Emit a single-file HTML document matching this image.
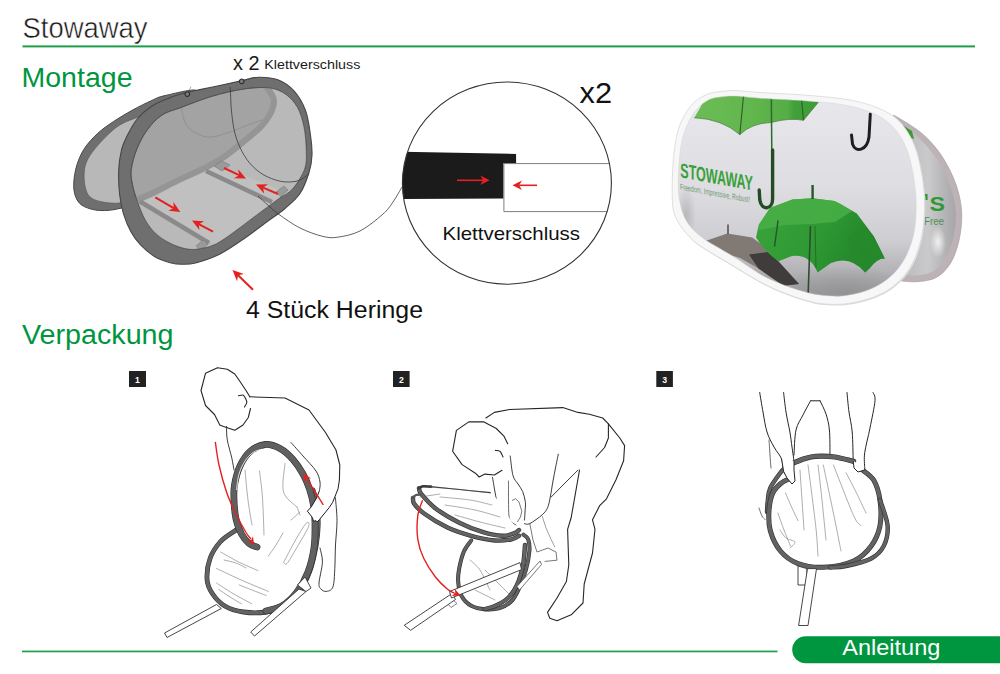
<!DOCTYPE html>
<html><head><meta charset="utf-8">
<style>
html,body{margin:0;padding:0;background:#fff;width:1000px;height:674px;overflow:hidden}
svg{display:block}
text{font-family:"Liberation Sans",sans-serif}
</style></head>
<body>
<svg width="1000" height="674" viewBox="0 0 1000 674">
<rect width="1000" height="674" fill="#fff"/>
<path d="M196,90.5 C195.2,88.1 172.3,93.9 165,95.6 C157.7,97.2 157.3,98 151.9,100.4 C146.5,102.8 139,106.5 132.6,110.1 C126.2,113.6 119.1,117.8 113.3,121.7 C107.5,125.6 102.6,128.8 97.8,133.3 C93,137.8 87.8,143.2 84.3,148.7 C80.8,154.1 78.4,159.9 76.6,166 C74.8,172.1 73.7,179.9 73.7,185.4 C73.7,190.9 74.8,195.4 76.6,198.9 C78.4,202.4 80.4,204.7 84.3,206.6 C88.2,208.5 93.9,210.2 99.7,210.5 C105.5,210.8 112.3,210.3 119,208.6 C125.7,206.8 134.8,209.8 140,200 C145.2,190.2 145,165 150,150 C155,135 162.3,119.9 170,110 C177.7,100.1 196.8,92.9 196,90.5Z" fill="#6f6f6f" stroke="#474747" stroke-width="1"/>
<path d="M145,114 C144.7,110.2 142.7,115 138.4,116.9 C134.1,118.8 125.1,121.5 119,125.5 C112.9,129.5 106.8,135.5 101.7,141 C96.6,146.5 91.1,153.2 88.2,158.4 C85.3,163.6 84.8,167.1 84.3,171.9 C83.8,176.7 84.3,183.1 85.3,187.3 C86.3,191.5 87.4,194.6 90.1,197 C92.8,199.4 96.5,200.8 101.7,201.8 C106.9,202.8 115.5,203.9 121,202.8 C126.5,201.7 131.8,205.5 135,195 C138.2,184.5 138.3,153.5 140,140 C141.7,126.5 145.3,117.8 145,114Z" fill="#b8b8b8" stroke="#555" stroke-width="0.6"/>
<path d="M118.7,170 C119,162.8 120.2,155.4 121.5,150 C122.8,144.6 123.9,142.4 126.4,137.3 C129,132.2 132.6,124.7 136.8,119.5 C141,114.3 145.9,109.9 151.6,106.2 C157.3,102.5 164.8,99.7 171,97.3 C177.2,94.9 181.8,93.8 188.7,92.1 C195.6,90.4 203.7,88.9 212.6,87 C221.5,85.1 234.4,82.2 242,80.6 C249.6,79 252.3,77.3 258.3,77.2 C264.3,77.1 271.9,77.5 277.9,79.8 C283.9,82.1 289.6,86 294.2,91.2 C298.8,96.4 302.9,103.4 305.6,110.8 C308.3,118.2 309.4,127.9 310.5,135.3 C311.6,142.7 312.2,148.8 312,155 C311.8,161.2 311,166.1 309,172.5 C307,178.9 304,187.5 300,193.5 C296,199.5 290.3,203.9 285,208.5 C279.7,213.1 274.7,216.1 268,221 C261.3,225.9 253,232.5 245,238 C237,243.5 228.1,249.9 220,254 C211.9,258.1 202.8,261 196.6,262.7 C190.4,264.4 187,264.3 182.6,264.3 C178.2,264.3 174.8,264 170.1,262.7 C165.4,261.4 159.4,259.5 154.5,256.5 C149.6,253.5 144.4,248.8 140.5,244.8 C136.6,240.8 134,237.5 131.2,232.3 C128.3,227.1 125.4,220.1 123.4,213.6 C121.5,207.1 120.3,200.7 119.5,193.4 C118.7,186.1 118.4,177.2 118.7,170Z" fill="#6f6f6f" stroke="#474747" stroke-width="1.1"/>
<clipPath id="fi"><path d="M131.2,170 C131.9,163.9 134.1,155.9 136.8,149.2 C139.5,142.5 143,135.7 147.2,130 C151.4,124.3 156.3,118.8 162,115 C167.7,111.2 172.9,110.6 181.3,107.4 C189.7,104.2 202,99.2 212.6,96.1 C223.2,93 235.5,90.1 245,88.8 C254.5,87.5 262.9,87 269.7,88 C276.5,89 281.4,91.2 286,94.5 C290.6,97.8 294.5,102.1 297.5,107.5 C300.5,112.9 302.5,119.7 304,127 C305.5,134.3 306.2,144.5 306.3,151.6 C306.4,158.7 306.8,163.3 304.5,169.5 C302.2,175.7 297,184 292.5,189 C288,194 283.2,195.3 277.5,199.5 C271.8,203.7 267.6,207 258,214 C248.4,221 229.7,235.9 220,241.7 C210.3,247.5 205.4,247.5 199.7,248.7 C194,249.9 190.6,249.6 185.7,248.7 C180.8,247.8 175,245.7 170.1,243.2 C165.2,240.7 160.2,237.8 156.1,233.9 C151.9,230 148.3,225.4 145.2,219.9 C142.1,214.4 139.5,206.9 137.4,201.2 C135.3,195.5 133.7,190.8 132.7,185.6 C131.7,180.4 130.5,176.1 131.2,170Z"/></clipPath>
<path d="M131.2,170 C131.9,163.9 134.1,155.9 136.8,149.2 C139.5,142.5 143,135.7 147.2,130 C151.4,124.3 156.3,118.8 162,115 C167.7,111.2 172.9,110.6 181.3,107.4 C189.7,104.2 202,99.2 212.6,96.1 C223.2,93 235.5,90.1 245,88.8 C254.5,87.5 262.9,87 269.7,88 C276.5,89 281.4,91.2 286,94.5 C290.6,97.8 294.5,102.1 297.5,107.5 C300.5,112.9 302.5,119.7 304,127 C305.5,134.3 306.2,144.5 306.3,151.6 C306.4,158.7 306.8,163.3 304.5,169.5 C302.2,175.7 297,184 292.5,189 C288,194 283.2,195.3 277.5,199.5 C271.8,203.7 267.6,207 258,214 C248.4,221 229.7,235.9 220,241.7 C210.3,247.5 205.4,247.5 199.7,248.7 C194,249.9 190.6,249.6 185.7,248.7 C180.8,247.8 175,245.7 170.1,243.2 C165.2,240.7 160.2,237.8 156.1,233.9 C151.9,230 148.3,225.4 145.2,219.9 C142.1,214.4 139.5,206.9 137.4,201.2 C135.3,195.5 133.7,190.8 132.7,185.6 C131.7,180.4 130.5,176.1 131.2,170Z" fill="#a3a3a3" stroke="#4d4d4d" stroke-width="0.7"/>
<g clip-path="url(#fi)">
<path d="M266,86 C267.3,88.2 272.9,94.8 273.7,99.3 C274.5,103.8 272.9,108.3 270.8,112.8 C268.7,117.3 265.4,121.8 261.2,126.3 C257,130.8 251.6,135 245.8,139.8 C240,144.6 232.9,150.7 226.5,155.2 C220.1,159.7 215.2,162.6 207.2,166.8 C199.1,171 186.9,176.1 178.2,180.3 C169.5,184.5 162.5,188.4 155.1,191.9 C147.7,195.4 137.5,199.9 134,201.5 L120,260 L320,260 L320,80Z" fill="#b9b9b9"/>
<path d="M140,199 L214,163 L290,194 L215,245Z" fill="#c0c0c0"/>
<path d="M266,86 C267.3,88.2 272.9,94.8 273.7,99.3 C274.5,103.8 272.9,108.3 270.8,112.8 C268.7,117.3 265.4,121.8 261.2,126.3 C257,130.8 251.6,135 245.8,139.8 C240,144.6 232.9,150.7 226.5,155.2 C220.1,159.7 215.2,162.6 207.2,166.8 C199.1,171 186.9,176.1 178.2,180.3 C169.5,184.5 162.5,188.4 155.1,191.9 C147.7,195.4 137.5,199.9 134,201.5" fill="none" stroke="#959595" stroke-width="6.2"/>
<path d="M181,106 C181.8,109.1 183.2,119.7 186,124.4 C188.8,129.1 193.3,131.9 197.5,134 C201.7,136.1 205.6,137.3 211,137 C216.4,136.7 223.6,134.1 230,132 C236.4,129.9 244.3,126.4 249.6,124.4 C254.9,122.4 259.9,120.7 262,120" fill="none" stroke="#8d8d8d" stroke-width="0.8"/>
<path d="M140,201.5 L209,243" stroke="#8a8a8a" stroke-width="4.6" fill="none"/>
<path d="M206,171 L272,202" stroke="#8a8a8a" stroke-width="4.6" fill="none"/>
<path d="M214,166 L222,161 L230,165 L222,171Z" fill="#9a9a9a" stroke="#7a7a7a" stroke-width="0.6"/>
<path d="M276,192 L284,186 L288,190 L281,197Z" fill="#9a9a9a" stroke="#7a7a7a" stroke-width="0.6"/>
<path d="M196,246 L203,240 L208,244 L201,250Z" fill="#9a9a9a" stroke="#7a7a7a" stroke-width="0.6"/>
</g>
<path d="M131.2,170 C131.9,163.9 134.1,155.9 136.8,149.2 C139.5,142.5 143,135.7 147.2,130 C151.4,124.3 156.3,118.8 162,115 C167.7,111.2 172.9,110.6 181.3,107.4 C189.7,104.2 202,99.2 212.6,96.1 C223.2,93 235.5,90.1 245,88.8 C254.5,87.5 262.9,87 269.7,88 C276.5,89 281.4,91.2 286,94.5 C290.6,97.8 294.5,102.1 297.5,107.5 C300.5,112.9 302.5,119.7 304,127 C305.5,134.3 306.2,144.5 306.3,151.6 C306.4,158.7 306.8,163.3 304.5,169.5 C302.2,175.7 297,184 292.5,189 C288,194 283.2,195.3 277.5,199.5 C271.8,203.7 267.6,207 258,214 C248.4,221 229.7,235.9 220,241.7 C210.3,247.5 205.4,247.5 199.7,248.7 C194,249.9 190.6,249.6 185.7,248.7 C180.8,247.8 175,245.7 170.1,243.2 C165.2,240.7 160.2,237.8 156.1,233.9 C151.9,230 148.3,225.4 145.2,219.9 C142.1,214.4 139.5,206.9 137.4,201.2 C135.3,195.5 133.7,190.8 132.7,185.6 C131.7,180.4 130.5,176.1 131.2,170Z" fill="none" stroke="#4d4d4d" stroke-width="0.7"/>
<path d="M230.3,87 C230.5,90.7 230.7,101.8 231.3,109 C232,116.2 232.8,123.8 234.2,130.2 C235.6,136.6 237.4,142 240,147.5 C242.6,153 245.8,158.5 249.6,163 C253.4,167.5 257.9,171.4 263,174.5 C268.1,177.6 275,180.2 280.5,181.3 C286,182.4 291.8,182.1 296,181.3 C300.2,180.5 303.4,177.9 305.6,176.5 C307.8,175.1 308.4,173.6 309,173" fill="none" stroke="#3a3a3a" stroke-width="0.8"/>
<path d="M258,196 C260,197.8 266.5,203.9 270,207 C273.5,210.1 274,211 279,214.5 C284,218 292.8,224.4 300,228 C307.2,231.6 316.2,234.8 322.5,236.3 C328.8,237.8 331.2,238.1 337.5,237.2 C343.8,236.3 352.5,234.8 360,231 C367.5,227.2 377,219.3 382.5,214.5 C388,209.7 389.8,206.6 393,202 C396.2,197.4 400.5,189.5 402,187" fill="none" stroke="#3a3a3a" stroke-width="0.8"/>
<circle cx="187.3" cy="94.1" r="2.4" fill="#777" stroke="#222" stroke-width="1"/>
<circle cx="241.7" cy="81.4" r="2.4" fill="#777" stroke="#222" stroke-width="1"/>
<path d="M189,90.5 L191,86.5" stroke="#777" stroke-width="0.6"/>
<path d="M155.3,197.3 L173.7,208.1" stroke="#e3211f" stroke-width="2.0" fill="none"/><path d="M180.3,212.0 L168.3,210.7 L173.7,208.1 L173.4,202.1 Z" fill="#e3211f"/>
<path d="M213.0,231.6 L198.8,224.2" stroke="#e3211f" stroke-width="2.0" fill="none"/><path d="M192.0,220.6 L204.1,221.3 L198.8,224.2 L199.4,230.1 Z" fill="#e3211f"/>
<path d="M224.0,168.0 L239.1,175.2" stroke="#e3211f" stroke-width="2.0" fill="none"/><path d="M246.0,178.5 L233.9,178.3 L239.1,175.2 L238.2,169.2 Z" fill="#e3211f"/>
<path d="M278.0,194.0 L263.1,187.6" stroke="#e3211f" stroke-width="2.0" fill="none"/><path d="M256.0,184.5 L268.1,184.3 L263.1,187.6 L264.1,193.5 Z" fill="#e3211f"/>
<path d="M253.0,289.7 L238.1,275.3" stroke="#e3211f" stroke-width="2.0" fill="none"/><path d="M232.5,270.0 L243.9,274.0 L238.1,275.3 L237.0,281.2 Z" fill="#e3211f"/>
<clipPath id="cc"><ellipse cx="506.9" cy="183.1" rx="104.5" ry="101.1"/></clipPath>
<g clip-path="url(#cc)">
<path d="M395,151.5 L516.1,154 L516.1,163.2 L503.4,163.2 L503.4,198.5 L395,199Z" fill="#1b1b1b"/>
<path d="M503.9,163.6 H620 M503.9,163.6 V211.6 H620" fill="none" stroke="#7d7d7d" stroke-width="1"/>
</g>
<ellipse cx="506.9" cy="183.1" rx="104.5" ry="101.1" fill="none" stroke="#333" stroke-width="1.1"/>
<path d="M457.0,180.3 L483.1,180.3" stroke="#e3211f" stroke-width="1.6" fill="none"/><path d="M489.7,180.3 L480.2,185.1 L483.1,180.3 L480.2,175.5 Z" fill="#e3211f"/>
<path d="M537.0,185.3 L519.1,185.3" stroke="#e3211f" stroke-width="1.6" fill="none"/><path d="M512.5,185.3 L522.0,180.5 L519.1,185.3 L522.0,190.1 Z" fill="#e3211f"/>
<defs><linearGradient id="bpg" x1="0" y1="0" x2="1" y2="0"><stop offset="0" stop-color="#b9b9bb"/><stop offset="0.5" stop-color="#cacacc"/><stop offset="1" stop-color="#a6a5a7"/></linearGradient><linearGradient id="fpg" x1="0" y1="0" x2="0" y2="1"><stop offset="0" stop-color="#e9e8ed"/><stop offset="0.45" stop-color="#dedde2"/><stop offset="0.7" stop-color="#cecdd1"/><stop offset="0.85" stop-color="#b2b1b5"/><stop offset="1" stop-color="#959497"/></linearGradient><radialGradient id="cloud" cx="0.5" cy="0.5" r="0.5"><stop offset="0" stop-color="#f2f2f2" stop-opacity="0.95"/><stop offset="1" stop-color="#f2f2f2" stop-opacity="0"/></radialGradient><radialGradient id="dcloud" cx="0.5" cy="0.5" r="0.5"><stop offset="0" stop-color="#8e8d8f" stop-opacity="0.9"/><stop offset="1" stop-color="#8e8d8f" stop-opacity="0"/></radialGradient><linearGradient id="gum" x1="0" y1="0" x2="1" y2="0.3"><stop offset="0" stop-color="#3aa33c"/><stop offset="0.55" stop-color="#2f9a33"/><stop offset="1" stop-color="#23852a"/></linearGradient><linearGradient id="gtop" x1="0" y1="0" x2="1" y2="0"><stop offset="0" stop-color="#6cbc55"/><stop offset="0.45" stop-color="#62b64e"/><stop offset="0.75" stop-color="#55ad45"/><stop offset="0.8" stop-color="#42a03a"/><stop offset="1" stop-color="#3e9c37"/></linearGradient></defs>
<path d="M893,116 C893.7,116.2 892.1,114 897,117 C901.9,120 914.8,127.3 922.3,133.8 C929.8,140.4 936.4,147.9 942,156.3 C947.6,164.8 952.7,175.1 956,184.5 C959.3,193.9 961.2,203.3 961.7,212.7 C962.2,222.1 960.8,232.4 958.9,240.8 C957,249.2 954.2,257.3 950.4,263.4 C946.6,269.5 941.9,274.4 936.3,277.5 C930.7,280.6 923.1,281.2 916.6,281.7 C910.1,282.2 900.9,280.8 897,280.3 C893.1,279.9 893.7,279.2 893,279Z" fill="#bdb3b6" stroke="#a89fa2" stroke-width="0.7"/>
<path d="M905,126 C907.5,128.2 914.6,133.3 920,139 C925.4,144.7 932.4,152 937.5,160 C942.6,168 947.5,178.2 950.5,187 C953.5,195.8 955.4,204.3 955.8,213 C956.2,221.7 954.8,231.3 953,239 C951.2,246.7 948.4,253.6 945,259 C941.6,264.4 937.3,268.8 932.5,271.5 C927.7,274.2 921.4,275.1 916,275.5 C910.6,275.9 902.7,274.2 900,274Z" fill="url(#bpg)"/>
<ellipse cx="938" cy="242" rx="8" ry="16" fill="url(#cloud)"/>
<path d="M902.5,125 L912,131 L914,139 L906,136Z" fill="#3f9a35"/>
<text x="929.5" y="210.5" font-size="21" font-weight="bold" fill="#2f9a35" textLength="15.5" lengthAdjust="spacingAndGlyphs">S</text>
<path d="M923.5,195 L926.5,195 L926.5,200" stroke="#2f9a35" stroke-width="2.2" fill="none"/>
<text x="924" y="224.5" font-size="10" fill="#4f8f4f" textLength="20" lengthAdjust="spacingAndGlyphs">Free</text>
<path d="M735,90.6 C742.2,90.7 747.5,91.7 760,92.5 C772.5,93.3 795,94.2 810,95.5 C825,96.8 838.7,97.9 850,100 C861.3,102.1 870,104.7 878,108 C886,111.3 892.3,114.7 898,120 C903.7,125.3 908.3,132.5 912,140 C915.7,147.5 917.9,155.2 920,165 C922.1,174.8 924.1,187.8 924.5,199 C924.9,210.2 924.1,222.2 922.5,232 C920.9,241.8 918.1,250.7 915,258 C911.9,265.3 908.5,270.7 904,276 C899.5,281.3 894,286.2 888,290 C882,293.8 875.3,296.7 868,299 C860.7,301.3 852,303.2 844,304 C836,304.8 826.5,304.2 820,303.5 C813.5,302.8 810.1,301.4 805,300 C799.9,298.6 794.8,296.9 789.6,295 C784.4,293.1 779.2,291.1 774,288.8 C768.8,286.5 763.7,283.9 758.5,281 C753.3,278.1 748.1,274.8 742.9,271.7 C737.7,268.6 732.5,265.4 727.3,262.3 C722.1,259.2 716.9,256.2 711.7,253 C706.5,249.8 700.6,246.5 696.2,243 C691.8,239.5 688.4,235.8 685.2,232 C682,228.2 679,223.9 677,220 C675,216.1 673.8,213.7 673,208.5 C672.2,203.3 672.2,196.3 672.2,189 C672.2,181.7 672.5,172.3 673,164.5 C673.5,156.7 674.4,148.4 675.5,142 C676.6,135.6 678,130.4 679.5,126 C681,121.6 682.8,118.7 684.5,115.5 C686.2,112.3 688,109.5 690,107 C692,104.5 693.5,102.9 696.2,100.8 C699,98.7 703,96 706.5,94.5 C710,93 712.2,92.7 717,92 C721.8,91.3 727.8,90.5 735,90.6Z" fill="#dcdcdc" stroke="none" transform="translate(0.8,1.2)"/>
<path d="M735,90.6 C742.2,90.7 747.5,91.7 760,92.5 C772.5,93.3 795,94.2 810,95.5 C825,96.8 838.7,97.9 850,100 C861.3,102.1 870,104.7 878,108 C886,111.3 892.3,114.7 898,120 C903.7,125.3 908.3,132.5 912,140 C915.7,147.5 917.9,155.2 920,165 C922.1,174.8 924.1,187.8 924.5,199 C924.9,210.2 924.1,222.2 922.5,232 C920.9,241.8 918.1,250.7 915,258 C911.9,265.3 908.5,270.7 904,276 C899.5,281.3 894,286.2 888,290 C882,293.8 875.3,296.7 868,299 C860.7,301.3 852,303.2 844,304 C836,304.8 826.5,304.2 820,303.5 C813.5,302.8 810.1,301.4 805,300 C799.9,298.6 794.8,296.9 789.6,295 C784.4,293.1 779.2,291.1 774,288.8 C768.8,286.5 763.7,283.9 758.5,281 C753.3,278.1 748.1,274.8 742.9,271.7 C737.7,268.6 732.5,265.4 727.3,262.3 C722.1,259.2 716.9,256.2 711.7,253 C706.5,249.8 700.6,246.5 696.2,243 C691.8,239.5 688.4,235.8 685.2,232 C682,228.2 679,223.9 677,220 C675,216.1 673.8,213.7 673,208.5 C672.2,203.3 672.2,196.3 672.2,189 C672.2,181.7 672.5,172.3 673,164.5 C673.5,156.7 674.4,148.4 675.5,142 C676.6,135.6 678,130.4 679.5,126 C681,121.6 682.8,118.7 684.5,115.5 C686.2,112.3 688,109.5 690,107 C692,104.5 693.5,102.9 696.2,100.8 C699,98.7 703,96 706.5,94.5 C710,93 712.2,92.7 717,92 C721.8,91.3 727.8,90.5 735,90.6Z" fill="#f7f7f7" stroke="#d8d8d8" stroke-width="0.8"/>
<clipPath id="fpc"><path d="M735,96 C741.3,96.2 747.5,97.3 760,98.2 C772.5,99.1 795.5,100 810,101.2 C824.5,102.4 836.7,103.5 847,105.5 C857.3,107.5 864.8,109.9 872,113 C879.2,116.1 884.8,119.2 890,124 C895.2,128.8 899.9,135 903.5,142 C907.1,149 909.4,156.5 911.5,166 C913.6,175.5 915.5,188.3 916,199 C916.5,209.7 915.9,221 914.5,230 C913.1,239 910.4,246.3 907.5,253 C904.6,259.7 901.2,265 897,270 C892.8,275 887.5,279.4 882,283 C876.5,286.6 870.7,289.3 864,291.5 C857.3,293.7 849.3,295.4 842,296 C834.7,296.6 826.2,295.7 820,295 C813.8,294.3 810.1,293.2 805,291.9 C799.9,290.6 794.8,289 789.6,287.2 C784.4,285.4 779.2,283.3 774,281 C768.8,278.7 765,277.1 758.5,273.2 C752,269.3 741.5,261.8 735,257.6 C728.5,253.5 724.7,251.4 719.5,248.3 C714.3,245.2 708.4,242.1 704,239 C699.6,235.9 696.1,233 693,229.6 C689.9,226.2 687.3,222.8 685.2,218.7 C683.1,214.6 681.6,209.9 680.5,205 C679.4,200.1 678.5,195.7 678.3,189 C678,182.3 678.5,172.7 679,165 C679.5,157.3 680.3,149.2 681.5,143 C682.7,136.8 684.4,132.2 686,128 C687.6,123.8 689.2,120.7 691,117.5 C692.8,114.3 694.9,111.4 697,109 C699.1,106.6 701,104.8 703.5,103 C706,101.2 708.9,99.5 712,98.5 C715.1,97.5 718.2,97.2 722,96.8 C725.8,96.4 728.7,95.8 735,96Z"/></clipPath>
<g clip-path="url(#fpc)">
<rect x="660" y="90" width="270" height="215" fill="url(#fpg)"/>
<ellipse cx="686" cy="215" rx="10" ry="30" fill="url(#dcloud)" opacity="0.45"/>
<ellipse cx="845" cy="292" rx="70" ry="26" fill="url(#dcloud)" opacity="0.8"/>
<ellipse cx="745" cy="285" rx="45" ry="20" fill="url(#dcloud)" opacity="0.6"/>
<path d="M694.3,117.7 L700,108 L708,92 L819,92 L819,101.5 L803.5,120.3 Q790,117.5 771,122.5 Q752,123 739.8,134.6 Q722,119 694.3,117.7Z" fill="url(#gtop)"/>
<path d="M694.3,117.7 Q722,119 739.8,134.6 Q752,123 771,122.5 Q790,117.5 803.5,120.3 L819,101.5" fill="none" stroke="#3d7a35" stroke-width="0.7"/>
<path d="M743.7,94 L739.8,134.6 M801,94 L803.5,120.3" stroke="#2a5f28" stroke-width="1.1" fill="none"/>
<path d="M771.3,94 L771.8,150" stroke="#2f6a2d" stroke-width="1.5" fill="none"/>
<path d="M772.6,150 L772.6,199 C772.6,210 761.5,211 759.8,200 L759.2,190" stroke="#244b24" stroke-width="3.4" fill="none" stroke-linecap="round"/>
<path d="M870.3,114 L869,137 C867,151 855.5,153 852.5,144 L851.5,135" stroke="#1e1e1e" stroke-width="3" fill="none" stroke-linecap="round"/>
<path d="M700,241 L702.4,242 L727.3,233.5 L752.2,237.4 L764.7,246.7 L779,262 L799,284 L783.4,285.7 L758.5,268.5 L740,258 L719.5,251.4 L702,243Z" fill="#817a74"/>
<path d="M749,254.5 L768,252 L779,262 L799,284 L783.4,285.7 L758.5,268.5Z" fill="#3f3c3b"/>
<path d="M728,224.5 L728,234" stroke="#4f4b48" stroke-width="1.5"/>
<path d="M770,208 L792.4,199.6 L812,198.2 L834.4,201 L840,203.8 L856.8,213.6 L873.6,236 L884.8,258.4 Q877,258 870,268 L865.2,272.4 Q850,255 831,263 L817.6,272.4 Q810,254 792,256 L778.4,261.2 Q765,252 756,237.4 L758.8,224.8Z" fill="url(#gum)"/>
<path d="M770,208 L792.4,199.6 L812,198.2 L834.4,201 L840,203.8 L852,211 L835,222 L812,224 L785,225 L759,230 L758.8,224.8Z" fill="#49ae47" opacity="0.85"/>
<path d="M848,236 L862,225 L873.6,236 L884.8,258.4 Q877,258 870,268 L865.2,272.4 Q858,262 850,258Z" fill="#268a2d" opacity="0.7"/>
<path d="M812.6,185 L812.6,199" stroke="#255a26" stroke-width="2.4"/>
<path d="M810.5,226 L808,299" stroke="#2d4d2d" stroke-width="1.6" fill="none"/>
<path d="M815,226 L816,268" stroke="#2a6a2a" stroke-width="1" fill="none"/>
<path d="M778,221 L774.6,246" stroke="#22572a" stroke-width="1.4" fill="none" stroke-linecap="round"/>
<g transform="translate(680.3,177.2) skewY(10.5)"><text x="0" y="0" font-size="20.5" font-weight="bold" fill="#3aa03a" textLength="72.5" lengthAdjust="spacingAndGlyphs">STOWAWAY</text></g>
<g transform="translate(680,189.5) skewY(10.6)"><text x="0" y="0" font-size="8.6" fill="#6f9a6f" textLength="70" lengthAdjust="spacingAndGlyphs">Freedom, Impressive, Robust!</text></g>
</g>
<path d="M735,96 C741.3,96.2 747.5,97.3 760,98.2 C772.5,99.1 795.5,100 810,101.2 C824.5,102.4 836.7,103.5 847,105.5 C857.3,107.5 864.8,109.9 872,113 C879.2,116.1 884.8,119.2 890,124 C895.2,128.8 899.9,135 903.5,142 C907.1,149 909.4,156.5 911.5,166 C913.6,175.5 915.5,188.3 916,199 C916.5,209.7 915.9,221 914.5,230 C913.1,239 910.4,246.3 907.5,253 C904.6,259.7 901.2,265 897,270 C892.8,275 887.5,279.4 882,283 C876.5,286.6 870.7,289.3 864,291.5 C857.3,293.7 849.3,295.4 842,296 C834.7,296.6 826.2,295.7 820,295 C813.8,294.3 810.1,293.2 805,291.9 C799.9,290.6 794.8,289 789.6,287.2 C784.4,285.4 779.2,283.3 774,281 C768.8,278.7 765,277.1 758.5,273.2 C752,269.3 741.5,261.8 735,257.6 C728.5,253.5 724.7,251.4 719.5,248.3 C714.3,245.2 708.4,242.1 704,239 C699.6,235.9 696.1,233 693,229.6 C689.9,226.2 687.3,222.8 685.2,218.7 C683.1,214.6 681.6,209.9 680.5,205 C679.4,200.1 678.5,195.7 678.3,189 C678,182.3 678.5,172.7 679,165 C679.5,157.3 680.3,149.2 681.5,143 C682.7,136.8 684.4,132.2 686,128 C687.6,123.8 689.2,120.7 691,117.5 C692.8,114.3 694.9,111.4 697,109 C699.1,106.6 701,104.8 703.5,103 C706,101.2 708.9,99.5 712,98.5 C715.1,97.5 718.2,97.2 722,96.8 C725.8,96.4 728.7,95.8 735,96Z" fill="none" stroke="#d0d0d0" stroke-width="0.5"/>
<path d="M249.8,396.8 L246,390.5 L240,381.5 L234.8,374 L227.3,369.2 L217.5,367.7 L205.5,373.3 L201,390.5 L205.5,405.5 L214.5,414.5 L219.8,425 L223.5,426.5 L228,428 L234.8,430.3 L243,425 L248.3,417.5 L250.5,408.5" fill="none" stroke="#262626" stroke-width="1.10" stroke-linejoin="round" stroke-linecap="round"/>
<path d="M238.5,395.8 C239.2,395.7 241.9,394.6 243,395 C244.1,395.4 244.7,396.8 245.3,398 C245.9,399.2 246.9,401 246.8,402.5 C246.7,404 244.9,406.2 244.5,407" fill="none" stroke="#262626" stroke-width="1.10" stroke-linejoin="round" stroke-linecap="round"/>
<path d="M249.8,396.8 L285,398 L309,410 L325.5,432.5 L336,450 L339.8,465 L339.4,480" fill="none" stroke="#262626" stroke-width="1.10" stroke-linejoin="round" stroke-linecap="round"/>
<path d="M226.5,426.5 C226.6,428.8 226.4,434.8 227.3,440 C228.2,445.2 230.7,453 231.8,458 C232.9,463 233.6,468 234,470" fill="none" stroke="#262626" stroke-width="0.90" stroke-linejoin="round" stroke-linecap="round"/>
<path d="M291,442.5 C293,444.8 298.8,451.2 303,456 C307.2,460.8 313.2,466.7 316,471 C318.8,475.3 319.4,478.7 320,482 C320.6,485.3 319.5,489.2 319.4,490.7" fill="none" stroke="#262626" stroke-width="0.90" stroke-linejoin="round" stroke-linecap="round"/>
<path d="M335.4,497.8 C335.7,501.6 337,512.9 337,520.8 C337,528.7 335.9,537 335.5,545 C335.1,553 335.2,561.5 334.8,568.5 C334.4,575.5 334.3,583.4 332.8,587.2 C331.3,591 328,591.1 326,591.4 C324,591.7 322.2,590.4 321,589 C319.8,587.6 318.8,587.5 319,583 C319.2,578.5 322.2,568.1 322.4,562.3 C322.6,556.5 320.4,550.4 320,548" fill="none" stroke="#262626" stroke-width="0.90" stroke-linejoin="round" stroke-linecap="round"/>
<path d="M259.5,471 C260,475.5 261.8,487.3 262.5,498 C263.2,508.7 263.8,528.8 264,535" fill="none" stroke="#8a8a8a" stroke-width="0.70" stroke-linejoin="round" stroke-linecap="round"/>
<path d="M285,463.5 C284.8,468.2 281.5,484.8 283.5,492 C285.5,499.2 294.8,504.5 297,507" fill="none" stroke="#8a8a8a" stroke-width="0.70" stroke-linejoin="round" stroke-linecap="round"/>
<path d="M220.6,552 C223.7,553.7 233.1,559.2 239.3,562.3 C245.5,565.4 254.9,569.2 258,570.6" fill="none" stroke="#8a8a8a" stroke-width="0.70" stroke-linejoin="round" stroke-linecap="round"/>
<path d="M224,560 C226,560.5 232.3,561.7 236,563 C239.7,564.3 244.3,567.2 246,568" fill="none" stroke="#8a8a8a" stroke-width="0.70" stroke-linejoin="round" stroke-linecap="round"/>
<path d="M216.5,568.5 C221,570.6 234.8,577.2 243.5,581 C252.2,584.8 264.2,589.7 268.4,591.4" fill="none" stroke="#8a8a8a" stroke-width="0.70" stroke-linejoin="round" stroke-linecap="round"/>
<path d="M216.5,583 C219.2,584.8 227.1,590 233,593.5 C238.9,597 248.7,602.1 251.8,603.8" fill="none" stroke="#8a8a8a" stroke-width="0.70" stroke-linejoin="round" stroke-linecap="round"/>
<path d="M218.5,589.3 C220.4,590.6 226.2,594.6 230,597 C233.8,599.4 239.5,602.7 241.4,603.8" fill="none" stroke="#8a8a8a" stroke-width="0.70" stroke-linejoin="round" stroke-linecap="round"/>
<path d="M239.3,585 C241.4,585.8 247.5,588.2 252,590 C256.5,591.8 263.9,594.6 266.3,595.5" fill="none" stroke="#8a8a8a" stroke-width="0.70" stroke-linejoin="round" stroke-linecap="round"/>
<path d="M268.4,556 C269.7,554.2 273.6,548.8 276,545 C278.4,541.2 281.8,535 283,533" fill="none" stroke="#8a8a8a" stroke-width="0.70" stroke-linejoin="round" stroke-linecap="round"/>
<path d="M291,520 C292.5,518.7 298.5,513.3 300,512" fill="none" stroke="#8a8a8a" stroke-width="0.70" stroke-linejoin="round" stroke-linecap="round"/>
<path d="M245,470 C245.5,475 246.8,490.8 248,500 C249.2,509.2 251.3,520.8 252,525" fill="none" stroke="#8a8a8a" stroke-width="0.70" stroke-linejoin="round" stroke-linecap="round"/>
<path d="M297,507 C297.5,508.3 299.5,513.7 300,515" fill="none" stroke="#8a8a8a" stroke-width="0.70" stroke-linejoin="round" stroke-linecap="round"/>
<path d="M283.6,562.3 C285.5,558.8 291.4,547.4 295,541 C298.6,534.6 303.2,526.9 305.5,524 C307.8,521.1 308.8,522.5 309,523.5 C309.2,524.5 309.2,525.8 307,530 C304.8,534.2 299.3,543.4 296,549 C292.7,554.6 289.1,561.3 287,563.5 C284.9,565.7 284.2,562.5 283.6,562.3" fill="none" stroke="#8a8a8a" stroke-width="0.7"/>
<path d="M236.2,530 C233.6,531.9 224.9,536.8 220.6,541.5 C216.3,546.2 212.5,551.8 210.2,558 C207.9,564.2 206.7,573.1 207,579 C207.3,584.9 209.3,589 212.3,593.5 C215.3,598 219.6,602.9 224.8,606 C230,609.1 236.6,611 243.5,612 C250.4,613 259.4,613 266.3,612 C273.2,611 279.5,609.4 285,606 C290.5,602.6 295.3,597.3 299.5,591.4 C303.7,585.5 307.2,578.2 310,570.6 C312.8,563 314.7,553.3 316.1,545.7 C317.5,538.1 318.1,531.8 318.2,525 C318.3,518.2 317.9,510.8 317,505 C316.1,499.2 313.7,492.5 313,490" fill="none" stroke="#303030" stroke-width="4.80" stroke-linecap="round"/>
<path d="M236.2,530 C233.6,531.9 224.9,536.8 220.6,541.5 C216.3,546.2 212.5,551.8 210.2,558 C207.9,564.2 206.7,573.1 207,579 C207.3,584.9 209.3,589 212.3,593.5 C215.3,598 219.6,602.9 224.8,606 C230,609.1 236.6,611 243.5,612 C250.4,613 259.4,613 266.3,612 C273.2,611 279.5,609.4 285,606 C290.5,602.6 295.3,597.3 299.5,591.4 C303.7,585.5 307.2,578.2 310,570.6 C312.8,563 314.7,553.3 316.1,545.7 C317.5,538.1 318.1,531.8 318.2,525 C318.3,518.2 317.9,510.8 317,505 C316.1,499.2 313.7,492.5 313,490" fill="none" stroke="#636363" stroke-width="3.60" stroke-linecap="round"/>
<path d="M257,547 C255.7,546.4 251.6,545.7 249,543.5 C246.4,541.3 243.7,538.1 241.5,534 C239.3,529.9 237.2,524.7 236,519 C234.8,513.3 234.2,505.7 234,500 C233.8,494.3 233.5,490.7 234.5,485 C235.5,479.3 237.4,471.6 240,466 C242.6,460.4 245.8,455.1 250,451.5 C254.2,447.9 260,445 265,444.5 C270,444 275.3,446 280,448.5 C284.7,451 289.2,455.2 293,459.5 C296.8,463.8 300.2,469.1 303,474 C305.8,478.9 307.8,483.8 309.5,489 C311.2,494.2 312.6,499.5 313.5,505 C314.4,510.5 314.9,514.8 315,522 C315.1,529.2 315.2,539.7 314,548 C312.8,556.3 310.8,564.7 308,572 C305.2,579.3 301.3,586.3 297,592 C292.7,597.7 287.2,602.8 282,606 C276.8,609.2 268.7,610.2 266,611" fill="none" stroke="#303030" stroke-width="6.80" stroke-linecap="round"/>
<path d="M257,547 C255.7,546.4 251.6,545.7 249,543.5 C246.4,541.3 243.7,538.1 241.5,534 C239.3,529.9 237.2,524.7 236,519 C234.8,513.3 234.2,505.7 234,500 C233.8,494.3 233.5,490.7 234.5,485 C235.5,479.3 237.4,471.6 240,466 C242.6,460.4 245.8,455.1 250,451.5 C254.2,447.9 260,445 265,444.5 C270,444 275.3,446 280,448.5 C284.7,451 289.2,455.2 293,459.5 C296.8,463.8 300.2,469.1 303,474 C305.8,478.9 307.8,483.8 309.5,489 C311.2,494.2 312.6,499.5 313.5,505 C314.4,510.5 314.9,514.8 315,522 C315.1,529.2 315.2,539.7 314,548 C312.8,556.3 310.8,564.7 308,572 C305.2,579.3 301.3,586.3 297,592 C292.7,597.7 287.2,602.8 282,606 C276.8,609.2 268.7,610.2 266,611" fill="none" stroke="#606060" stroke-width="5.60" stroke-linecap="round"/>
<path d="M236.5,490 C236.9,487.3 237.6,478.8 239,474 C240.4,469.2 242.7,464.6 245,461 C247.3,457.4 250.2,454.5 253,452.5 C255.8,450.5 260.5,449.6 262,449" fill="none" stroke="#eee" stroke-width="0.9"/>
<path d="M319.4,490.7 L316.7,497.8 L311.4,506.7 L307.4,511.2 L312.3,517.4 L313.6,521.4 L315.8,520.5 L317.2,521.9 L319.4,519.6 L329.2,507.6 L332.7,502.3 L338,488.9 L339.4,480" fill="#fff" stroke="#1e1e1e" stroke-width="1"/>
<path d="M164.5,633 L216.5,604.5 L221.3,608.5 L167,637.5Z" fill="#fff" stroke="#333" stroke-width="0.90" stroke-linejoin="round"/>
<path d="M250.7,632 L299,589 L306,591.5 L254.5,636Z" fill="#fff" stroke="#333" stroke-width="0.90" stroke-linejoin="round"/>
<path d="M297.5,585 L305,577 L311,588 L306,591.5Z" fill="#fff" stroke="#333" stroke-width="0.90" stroke-linejoin="round"/>
<path d="M215.3,441.8 C215.9,445.7 217.1,456.6 219,465 C220.9,473.4 223.8,484 226.5,492 C229.2,500 232.2,506.2 235.5,513 C238.8,519.8 243.4,528.2 246,532.5 C248.6,536.8 250.2,537.9 251,539" fill="none" stroke="#e3211f" stroke-width="1.40"/>
<path d="M254.0,545.0 L246.8,540.0 L251.1,540.2 L253.0,536.3 Z" fill="#e3211f"/>
<path d="M323.3,504.8 C320.6,500.5 309.7,483.3 307,479" fill="none" stroke="#e3211f" stroke-width="1.40"/>
<path d="M303.0,473.0 L311.2,478.4 L306.4,478.3 L304.5,482.7 Z" fill="#e3211f"/>
<path d="M507.7,443.7 L503.9,436.1 L496.3,428.5 L484,421.9 L468.8,421.9 L456.4,430.4 L452.6,451.3 L462.1,464.6 L475.4,473.2 L479.2,477 L484.9,474.1 L494.4,475 L502,470.3" fill="none" stroke="#262626" stroke-width="1.10" stroke-linejoin="round" stroke-linecap="round"/>
<path d="M495.4,450.4 C496.2,450.5 498.8,450.2 500.1,451.3 C501.4,452.4 502.5,456.1 503,457" fill="none" stroke="#262626" stroke-width="1.10" stroke-linejoin="round" stroke-linecap="round"/>
<path d="M485.9,418 L494.4,412.4 L509.6,409.5 L562.8,407.6 L578,412.4 L589.4,414.3 L602.7,418 L608.4,423.8 L608.4,438 L604.6,447.5 L596,457" fill="none" stroke="#262626" stroke-width="1.10" stroke-linejoin="round" stroke-linecap="round"/>
<path d="M608.4,423.8 L619.8,438 L624.6,445.6 L623.6,460.8 L616,479.8 L606.5,498.8 L599.7,505.6 L592.5,519.8 L595,529.3 L592.5,553 L584.2,584 L583,603 L571.2,614.8 L557,620.7 L549.8,618.3 L547.5,612.4 L557,598 L566.4,581.5 L568.8,565 L567.6,529.3 L571.2,517.5 L578.3,477 L579.5,470" fill="none" stroke="#262626" stroke-width="1.10" stroke-linejoin="round" stroke-linecap="round"/>
<path d="M492.5,477.4 C492.9,479.8 494.1,487 495,492 C495.9,497 496.9,503.1 497.8,507.6 C498.7,512.1 499.6,515.4 500.5,519 C501.4,522.6 502.1,526.5 503.1,529 C504.1,531.5 506.1,533.4 506.7,534.3" fill="none" stroke="#262626" stroke-width="0.90" stroke-linejoin="round" stroke-linecap="round"/>
<path d="M510.2,456 C510.7,459.3 511.7,470.9 513,475.6 C514.3,480.3 516.4,481.3 518,484 C519.6,486.7 521.5,488.6 522.7,491.6 C523.9,494.7 525,498.9 525.4,502.3 C525.8,505.7 525.1,509.1 525,512 C524.9,515 524.6,518.7 524.5,520" fill="none" stroke="#262626" stroke-width="0.90" stroke-linejoin="round" stroke-linecap="round"/>
<path d="M508.5,481 C508.5,484.2 508.4,494.2 508.5,500 C508.6,505.8 508.5,512.3 509,516 C509.5,519.7 510.3,520.5 511.5,522 C512.7,523.5 515.2,524.5 516,525" fill="none" stroke="#444" stroke-width="0.80" stroke-linejoin="round" stroke-linecap="round"/>
<path d="M512,500.5 L515.6,498.7 L519,502 L521.8,511.2 L520.5,517 L517.4,521.9" fill="none" stroke="#555" stroke-width="0.8"/>
<path d="M558.3,454.2 C557.8,456.5 556.4,463.5 555.5,468 C554.6,472.5 553.9,476.2 553,481 C552.1,485.8 551.2,492.6 550.3,497 C549.4,501.4 548.9,504.7 547.6,507.6 C546.3,510.6 545.3,512 542.3,514.7 C539.3,517.4 532.8,522.1 529.8,523.6 C526.8,525.1 525.4,523.6 524.5,523.6" fill="none" stroke="#262626" stroke-width="0.90" stroke-linejoin="round" stroke-linecap="round"/>
<path d="M551.2,497 L565,483 L577.9,470.2" fill="none" stroke="#262626" stroke-width="0.90" stroke-linejoin="round" stroke-linecap="round"/>
<path d="M529.8,523.6 L533,540 L537,552 L548,548 L556,552 L557,560.2 L545,561.4" fill="none" stroke="#555" stroke-width="0.80" stroke-linejoin="round" stroke-linecap="round"/>
<path d="M542.3,516.5 L546,528 L551.2,539.6 L554.7,546.8" fill="none" stroke="#777" stroke-width="0.70" stroke-linejoin="round" stroke-linecap="round"/>
<path d="M419,488 L430,486 L492,492 L518,531 L495,540 L471,535.8 L447,527.5 L423.7,513.2 L414.2,503.7 L413,497.8Z" fill="#fff" stroke="none"/>
<path d="M423.7,487.1 C428.1,487.3 438.9,487.5 450,488.5 C461.1,489.5 483.5,492.2 490.2,493" fill="none" stroke="#8a8a8a" stroke-width="0.70" stroke-linejoin="round" stroke-linecap="round"/>
<path d="M440,497 C445,497.5 461.3,498.7 470,500 C478.7,501.3 488.3,504.2 492,505" fill="none" stroke="#8a8a8a" stroke-width="0.70" stroke-linejoin="round" stroke-linecap="round"/>
<path d="M445,505 C450,505.8 465.8,508 475,510 C484.2,512 495.8,515.8 500,517" fill="none" stroke="#8a8a8a" stroke-width="0.70" stroke-linejoin="round" stroke-linecap="round"/>
<path d="M455,515 C459.2,516.2 471.7,519.8 480,522 C488.3,524.2 500.8,527 505,528" fill="none" stroke="#8a8a8a" stroke-width="0.70" stroke-linejoin="round" stroke-linecap="round"/>
<path d="M420,497 C423.3,496.5 436.7,494.5 440,494" fill="none" stroke="#8a8a8a" stroke-width="0.70" stroke-linejoin="round" stroke-linecap="round"/>
<path d="M419,488.3 C419.4,489.3 418.6,490.8 421.4,494.2 C424.2,497.6 429.3,503.8 435.6,508.5 C441.9,513.2 451.4,518.8 459.3,522.7 C467.2,526.7 476,530 483.1,532.2 C490.2,534.4 497,535.6 502.1,535.8 C507.2,536 511.2,534.4 514,533.4 C516.8,532.4 518.2,530.6 519,530" fill="none" stroke="#303030" stroke-width="4.40" stroke-linecap="round"/>
<path d="M419,488.3 C419.4,489.3 418.6,490.8 421.4,494.2 C424.2,497.6 429.3,503.8 435.6,508.5 C441.9,513.2 451.4,518.8 459.3,522.7 C467.2,526.7 476,530 483.1,532.2 C490.2,534.4 497,535.6 502.1,535.8 C507.2,536 511.2,534.4 514,533.4 C516.8,532.4 518.2,530.6 519,530" fill="none" stroke="#636363" stroke-width="3.20" stroke-linecap="round"/>
<path d="M413,497.8 C413.2,498.8 412.4,501.1 414.2,503.7 C416,506.3 418.1,509.2 423.7,513.2 C429.2,517.2 439.6,523.7 447.5,527.5 C455.4,531.3 463.3,533.6 471.2,535.8 C479.1,538 488.3,539.9 495,540.5 C501.7,541.1 507.6,540.1 511.6,539.3 C515.6,538.5 517.8,536.4 519,535.8" fill="none" stroke="#303030" stroke-width="4.40" stroke-linecap="round"/>
<path d="M413,497.8 C413.2,498.8 412.4,501.1 414.2,503.7 C416,506.3 418.1,509.2 423.7,513.2 C429.2,517.2 439.6,523.7 447.5,527.5 C455.4,531.3 463.3,533.6 471.2,535.8 C479.1,538 488.3,539.9 495,540.5 C501.7,541.1 507.6,540.1 511.6,539.3 C515.6,538.5 517.8,536.4 519,535.8" fill="none" stroke="#636363" stroke-width="3.20" stroke-linecap="round"/>
<path d="M419,488.3 C419.7,488 421,486.6 423,486.3 C425,486 429.7,486.6 431,486.6" fill="none" stroke="#3a3a3a" stroke-width="2.6" stroke-linecap="round"/>
<path d="M431,486.6 C435.3,487.1 447,488.3 457,489.3 C467,490.3 485.2,492.1 490.8,492.6" fill="none" stroke="#444" stroke-width="1.1"/>
<path d="M413,497.8 C413.5,497.3 414.7,495.6 416,495 C417.3,494.4 420.2,494.6 421,494.5" fill="none" stroke="#555" stroke-width="2.2" stroke-linecap="round"/>
<path d="M470,560 C471.7,561.7 476.7,565 480,570 C483.3,575 488.3,586.7 490,590" fill="none" stroke="#8a8a8a" stroke-width="0.70" stroke-linejoin="round" stroke-linecap="round"/>
<path d="M485,570 C487.5,572.5 495.8,580.8 500,585 C504.2,589.2 508.3,593.3 510,595" fill="none" stroke="#8a8a8a" stroke-width="0.70" stroke-linejoin="round" stroke-linecap="round"/>
<path d="M475,590 C478.3,591.7 491.7,598.3 495,600" fill="none" stroke="#8a8a8a" stroke-width="0.70" stroke-linejoin="round" stroke-linecap="round"/>
<path d="M523.4,534.6 C524.2,535.4 527.2,536.5 528.2,539.3 C529.2,542.1 529.8,546.1 529.4,551.2 C529,556.4 527.6,563.9 525.8,570.2 C524,576.5 521.1,584.1 518.7,589.2 C516.3,594.3 514.8,597.8 511.6,601 C508.4,604.2 504.1,606.8 499.7,608.2 C495.3,609.6 490.2,609.8 485.5,609.4 C480.8,609 475.2,608 471.2,605.8 C467.2,603.6 463.9,600.3 461.7,596.3 C459.5,592.3 458.6,586.8 458.2,582 C457.8,577.2 458.3,572.9 459.3,567.8 C460.3,562.7 462,555.8 464,551.2 C466,546.7 470,542.3 471.2,540.5" fill="none" stroke="#303030" stroke-width="4.00" stroke-linecap="round"/>
<path d="M523.4,534.6 C524.2,535.4 527.2,536.5 528.2,539.3 C529.2,542.1 529.8,546.1 529.4,551.2 C529,556.4 527.6,563.9 525.8,570.2 C524,576.5 521.1,584.1 518.7,589.2 C516.3,594.3 514.8,597.8 511.6,601 C508.4,604.2 504.1,606.8 499.7,608.2 C495.3,609.6 490.2,609.8 485.5,609.4 C480.8,609 475.2,608 471.2,605.8 C467.2,603.6 463.9,600.3 461.7,596.3 C459.5,592.3 458.6,586.8 458.2,582 C457.8,577.2 458.3,572.9 459.3,567.8 C460.3,562.7 462,555.8 464,551.2 C466,546.7 470,542.3 471.2,540.5" fill="none" stroke="#636363" stroke-width="2.80" stroke-linecap="round"/>
<path d="M525,545 C524.7,548.3 524.3,558.3 523,565 C521.7,571.7 519.5,579.5 517,585 C514.5,590.5 511.7,594.5 508,598 C504.3,601.5 498.8,604.2 495,606 C491.2,607.8 486.7,608.5 485,609" fill="none" stroke="#303030" stroke-width="4.40" stroke-linecap="round"/>
<path d="M525,545 C524.7,548.3 524.3,558.3 523,565 C521.7,571.7 519.5,579.5 517,585 C514.5,590.5 511.7,594.5 508,598 C504.3,601.5 498.8,604.2 495,606 C491.2,607.8 486.7,608.5 485,609" fill="none" stroke="#636363" stroke-width="3.20" stroke-linecap="round"/>
<path d="M517,586.5 L540,561 L541.5,564.5 L519.5,590Z" fill="#fff" stroke="#555" stroke-width="0.80" stroke-linejoin="round"/>
<path d="M447,603 L451,607.5 L457,603.5 L453,600Z" fill="#fff" stroke="#555" stroke-width="0.70" stroke-linejoin="round"/>
<path d="M404.2,625.3 L452,593.5 L455.5,599.5 L410.6,630.3Z" fill="#fff" stroke="#333" stroke-width="0.90" stroke-linejoin="round"/>
<path d="M449.5,591.5 L520,562.6 L521.5,569.6 L451.5,598Z" fill="#fff" stroke="#333" stroke-width="0.90" stroke-linejoin="round"/>
<path d="M422.6,500.2 C421.8,502.8 418.6,509.1 417.8,515.6 C417,522.1 416.8,532.2 417.8,539.3 C418.8,546.4 420.7,552 423.7,558.3 C426.7,564.6 431.6,572.1 435.6,577.3 C439.6,582.4 444.3,586.5 447.5,589.2 C450.7,591.9 453.8,592.8 455,593.5" fill="none" stroke="#e3211f" stroke-width="1.40"/>
<path d="M460.5,595.5 L451.6,596.0 L455.4,593.3 L454.7,588.7 Z" fill="#e3211f"/>
<path d="M759.7,392.5 C760.2,395.8 761.8,405.4 763,412 C764.2,418.6 765.2,426.2 767,432 C768.8,437.8 771.6,442.5 774,447 C776.4,451.5 780,454.9 781.6,459 C783.2,463.1 782.2,467.9 783.6,471.4 C785,474.9 788.9,478.6 790,480" fill="none" stroke="#262626" stroke-width="1.00" stroke-linejoin="round" stroke-linecap="round"/>
<path d="M783.6,392.5 C784,395.8 785,405.4 786,412 C787,418.6 788.9,426.2 789.9,432 C790.9,437.8 791.3,442.2 792,447 C792.7,451.8 793.7,458.7 794,461" fill="none" stroke="#262626" stroke-width="1.00" stroke-linejoin="round" stroke-linecap="round"/>
<path d="M873,392.5 C873.3,393.9 875.5,394.9 875,400.8 C874.5,406.7 871.7,419.4 870,428 C868.3,436.6 865.6,446.1 864.7,452.7 C863.8,459.2 864.7,464.9 864.7,467.3" fill="none" stroke="#262626" stroke-width="1.00" stroke-linejoin="round" stroke-linecap="round"/>
<path d="M847,392.5 C847.3,395.8 848.1,405.4 849,412 C849.9,418.6 851.5,423.8 852.2,432 C852.9,440.2 853,456.2 853.2,461" fill="none" stroke="#262626" stroke-width="1.00" stroke-linejoin="round" stroke-linecap="round"/>
<path d="M810.6,400.8 L820,400.8" fill="none" stroke="#262626" stroke-width="1.00" stroke-linejoin="round" stroke-linecap="round"/>
<path d="M810.6,400.8 C809.3,403.2 805.4,410.1 803,415 C800.6,419.9 797.5,423.3 796,430 C794.5,436.7 794.3,450.8 794,455" fill="none" stroke="#262626" stroke-width="1.00" stroke-linejoin="round" stroke-linecap="round"/>
<path d="M820,400.8 C821,403 824.4,409.1 826,414 C827.6,418.9 828.7,423.2 829.4,430 C830.1,436.8 829.9,450.8 830,455" fill="none" stroke="#262626" stroke-width="1.00" stroke-linejoin="round" stroke-linecap="round"/>
<path d="M769,440 C769.2,442.5 769.7,450.3 770,455 C770.3,459.7 770.8,465.8 771,468" fill="none" stroke="#444" stroke-width="0.80" stroke-linejoin="round" stroke-linecap="round"/>
<path d="M759,508 C759.5,509.3 761,514.1 762,516 C763,517.9 764.5,518.8 765,519.4" fill="none" stroke="#444" stroke-width="0.80" stroke-linejoin="round" stroke-linecap="round"/>
<path d="M808,465 C809.3,475.1 814,510.5 815.7,525.7 C817.4,540.9 817.6,551 818,556" fill="none" stroke="#8a8a8a" stroke-width="0.70" stroke-linejoin="round" stroke-linecap="round"/>
<path d="M818,465 C818.7,470.8 820.7,487.5 822,500 C823.3,512.5 825.3,533.3 826,540" fill="none" stroke="#8a8a8a" stroke-width="0.70" stroke-linejoin="round" stroke-linecap="round"/>
<path d="M823.3,465 C825,473 830.4,498.7 833.4,513 C836.4,527.3 839.7,544.7 841,551" fill="none" stroke="#8a8a8a" stroke-width="0.70" stroke-linejoin="round" stroke-linecap="round"/>
<path d="M833.4,465 C836.8,473.4 849,505.5 853.6,515.6 C858.2,525.7 859.8,524 861,525.7" fill="none" stroke="#8a8a8a" stroke-width="0.70" stroke-linejoin="round" stroke-linecap="round"/>
<path d="M846,472.7 C847.7,475.9 852.7,485.3 856,492 C859.3,498.7 864.3,509.5 866,513" fill="none" stroke="#8a8a8a" stroke-width="0.70" stroke-linejoin="round" stroke-linecap="round"/>
<path d="M777.9,513 C778.9,515.8 781.9,524.5 784,530 C786.1,535.5 789.4,543.3 790.5,546" fill="none" stroke="#8a8a8a" stroke-width="0.70" stroke-linejoin="round" stroke-linecap="round"/>
<path d="M785.4,492.9 C786.5,495.4 789.9,503.4 792,508 C794.1,512.6 797,518.6 798,520.7" fill="none" stroke="#8a8a8a" stroke-width="0.70" stroke-linejoin="round" stroke-linecap="round"/>
<path d="M780,530 C781,531.3 783.5,536 786,538 C788.5,540 794.3,540.3 795,542 C795.7,543.7 790.8,547 790,548" fill="none" stroke="#8a8a8a" stroke-width="0.70" stroke-linejoin="round" stroke-linecap="round"/>
<path d="M800,470 C800.3,475 801.3,490 802,500 C802.7,510 803.7,525 804,530" fill="none" stroke="#8a8a8a" stroke-width="0.70" stroke-linejoin="round" stroke-linecap="round"/>
<path d="M794.3,462.6 C796.1,461.9 801.4,459.6 805,458.5 C808.6,457.4 810.7,456.6 815.7,456.3 C820.7,456.1 828.7,456.1 835,457 C841.3,457.9 850.5,460.7 853.6,461.4" fill="none" stroke="#303030" stroke-width="5.20" stroke-linecap="round"/>
<path d="M794.3,462.6 C796.1,461.9 801.4,459.6 805,458.5 C808.6,457.4 810.7,456.6 815.7,456.3 C820.7,456.1 828.7,456.1 835,457 C841.3,457.9 850.5,460.7 853.6,461.4" fill="none" stroke="#636363" stroke-width="4.00" stroke-linecap="round"/>
<path d="M784.2,469 C783.6,469.6 782.7,469.6 780.4,472.7 C778.1,475.8 772.4,483.3 770.3,487.9 C768.2,492.5 768.3,496.5 767.8,500.5 C767.2,504.5 767.1,510.1 767,512" fill="none" stroke="#303030" stroke-width="4.40" stroke-linecap="round"/>
<path d="M784.2,469 C783.6,469.6 782.7,469.6 780.4,472.7 C778.1,475.8 772.4,483.3 770.3,487.9 C768.2,492.5 768.3,496.5 767.8,500.5 C767.2,504.5 767.1,510.1 767,512" fill="none" stroke="#636363" stroke-width="3.20" stroke-linecap="round"/>
<path d="M861.1,469 C863.2,470.9 870.6,475.1 873.8,480.3 C876.9,485.6 879,492.9 880,500.5 C881,508.1 881.5,518.1 880,525.7 C878.5,533.3 875.6,540 871.2,545.9 C866.8,551.8 861.6,557.4 853.6,561 C845.6,564.6 832.6,566.9 823.3,567.3 C814,567.7 805.1,566.3 798,563.6 C790.9,560.9 785,556.5 780.4,551 C775.8,545.5 772.2,537.5 770.3,530.8 C768.4,524.1 768.6,516.9 769,510.6 C769.4,504.3 770.7,497.5 772.8,492.9 C774.9,488.3 778.9,485.1 781.6,482.8 C784.3,480.5 787.9,479.6 789.2,479" fill="none" stroke="#303030" stroke-width="5.00" stroke-linecap="round"/>
<path d="M861.1,469 C863.2,470.9 870.6,475.1 873.8,480.3 C876.9,485.6 879,492.9 880,500.5 C881,508.1 881.5,518.1 880,525.7 C878.5,533.3 875.6,540 871.2,545.9 C866.8,551.8 861.6,557.4 853.6,561 C845.6,564.6 832.6,566.9 823.3,567.3 C814,567.7 805.1,566.3 798,563.6 C790.9,560.9 785,556.5 780.4,551 C775.8,545.5 772.2,537.5 770.3,530.8 C768.4,524.1 768.6,516.9 769,510.6 C769.4,504.3 770.7,497.5 772.8,492.9 C774.9,488.3 778.9,485.1 781.6,482.8 C784.3,480.5 787.9,479.6 789.2,479" fill="none" stroke="#636363" stroke-width="3.80" stroke-linecap="round"/>
<path d="M880,500 C881.3,504.3 887,518.1 887.6,525.7 C888.2,533.4 886.5,540.4 883.8,545.9 C881.1,551.4 877.5,555.1 871.2,558.5 C864.9,561.9 852.9,564.5 846,566 C839.1,567.5 832.7,567.2 830,567.5" fill="none" stroke="#303030" stroke-width="4.40" stroke-linecap="round"/>
<path d="M880,500 C881.3,504.3 887,518.1 887.6,525.7 C888.2,533.4 886.5,540.4 883.8,545.9 C881.1,551.4 877.5,555.1 871.2,558.5 C864.9,561.9 852.9,564.5 846,566 C839.1,567.5 832.7,567.2 830,567.5" fill="none" stroke="#636363" stroke-width="3.20" stroke-linecap="round"/>
<path d="M781.6,459 L783.6,471.4 L787,478 L792,484 L795,481 L794,470 L794,461" fill="#fff" stroke="#262626" stroke-width="1"/>
<path d="M853.2,461 L854,468 L858,472 L864.7,470 L864.7,467.3" fill="#fff" stroke="#262626" stroke-width="1"/>
<path d="M798,566 L806.9,568.6 L806.9,585 L798,585Z" fill="#fff" stroke="#333" stroke-width="0.90" stroke-linejoin="round"/>
<path d="M807.5,568.6 L816.5,568.6 L808,625.5 L798.6,625.5Z" fill="#fff" stroke="#333" stroke-width="0.90" stroke-linejoin="round"/>
<!-- header -->
<text x="22.5" y="37.5" font-size="29.2" fill="#1a1a1a" stroke="#fff" stroke-width="0.5" textLength="125" lengthAdjust="spacingAndGlyphs">Stowaway</text>
<rect x="22.5" y="45.4" width="952.5" height="2" fill="#1c9e4a"/>
<text x="21.5" y="86.8" font-size="27.7" fill="#00963f" textLength="111" lengthAdjust="spacingAndGlyphs">Montage</text>
<text x="22" y="344.2" font-size="27.7" fill="#00963f" textLength="151.5" lengthAdjust="spacingAndGlyphs">Verpackung</text>
<!-- labels -->
<text x="233" y="69.8" font-size="20" fill="#1a1a1a" textLength="26.5" lengthAdjust="spacingAndGlyphs">x 2</text>
<text x="264.3" y="69" font-size="13.7" fill="#1a1a1a" textLength="96" lengthAdjust="spacingAndGlyphs">Klettverschluss</text>
<text x="246" y="317.5" font-size="23.3" fill="#111" textLength="177" lengthAdjust="spacingAndGlyphs">4 Stück Heringe</text>
<text x="442.5" y="239.8" font-size="19" fill="#111" textLength="137.5" lengthAdjust="spacingAndGlyphs">Klettverschluss</text>
<text x="579.5" y="103.3" font-size="30" fill="#111" textLength="32.5" lengthAdjust="spacingAndGlyphs">x2</text>
<!-- step boxes -->
<rect x="129" y="371" width="17" height="16" fill="#222"/>
<text x="137.5" y="383" font-size="8.7" font-weight="bold" fill="#fff" text-anchor="middle">1</text>
<rect x="393" y="371" width="16.6" height="16" fill="#222"/>
<text x="401.3" y="383" font-size="8.7" font-weight="bold" fill="#fff" text-anchor="middle">2</text>
<rect x="656.3" y="371" width="16.6" height="16" fill="#222"/>
<text x="664.6" y="383" font-size="8.7" font-weight="bold" fill="#fff" text-anchor="middle">3</text>
<!-- footer -->
<rect x="22" y="650.6" width="755.5" height="1.7" fill="#1c9e4a"/>
<path d="M805.7,636.2 H1000 V663.2 H805.7 A13.5,13.5 0 0 1 805.7,636.2 Z" fill="#00963f"/>
<text x="842.3" y="654.7" font-size="21.5" fill="#fff" textLength="98" lengthAdjust="spacingAndGlyphs">Anleitung</text>

</svg>
</body></html>
